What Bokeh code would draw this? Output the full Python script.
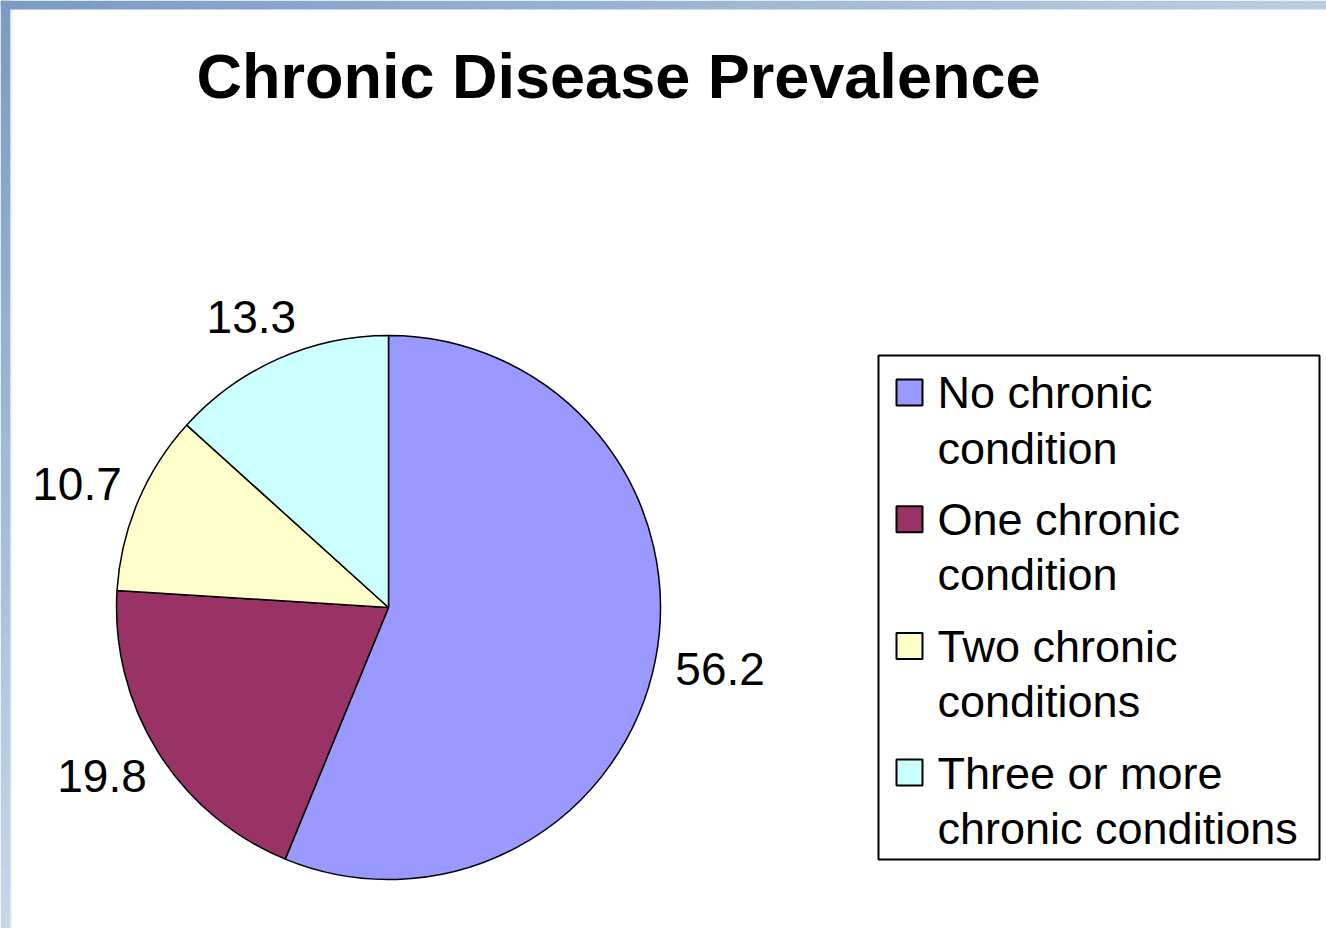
import numpy as np
from bokeh.plotting import figure
from bokeh.models import Range1d
from bokeh.core.properties import value
from bokeh.embed import file_html
from bokeh.resources import INLINE

# ---- data ----
title = "Chronic Disease Prevalence"
categories = ["No chronic\ncondition", "One chronic\ncondition",
              "Two chronic\nconditions", "Three or more\nchronic conditions"]
values = [56.2, 19.8, 10.7, 13.3]
labels = ["56.2", "19.8", "10.7", "13.3"]
colors = ["#9999FF", "#993366", "#FFFFCC", "#CCFFFF"]

W, H = 1326, 928
FONT = "Liberation Sans"

p = figure(width=W, height=H, x_range=Range1d(0, W), y_range=Range1d(0, H),
           output_backend="svg", toolbar_location=None, min_border=0,
           x_axis_type=None, y_axis_type=None)
p.grid.visible = False
p.outline_line_color = None
p.background_fill_color = "white"
p.border_fill_color = "white"

# ---- window frame (gradient strips) ----
def lerp(c1, c2, t):
    return "#%02x%02x%02x" % tuple(int(round(a + (b - a) * t)) for a, b in zip(c1, c2))

n = 60
c_start, c_top_end, c_left_end = (122, 156, 196), (190, 206, 225), (202, 216, 232)
xs = np.linspace(0, W, n + 1)
p.quad(left=xs[:-1], right=xs[1:] + 1, top=H, bottom=H - 9,
       color=[lerp(c_start, c_top_end, i / n) for i in range(n)], line_color=None)
ys = np.linspace(0, H, n + 1)
p.quad(left=0, right=10, top=H - ys[:-1], bottom=H - ys[1:] - 1,
       color=[lerp(c_start, c_left_end, i / n) for i in range(n)], line_color=None)
p.quad(left=10, right=11, top=H - 9, bottom=0, color="#dde6f0", line_color=None)

# ---- pie ----
cx, cy, r = 388, H - 607, 272
vals = np.array(values, dtype=float)
frac = vals / vals.sum()
cum = np.concatenate([[0], np.cumsum(frac)])
start = np.pi / 2 - 2 * np.pi * cum[:-1]
end = np.pi / 2 - 2 * np.pi * cum[1:]
p.wedge(x=cx, y=cy, radius=r, start_angle=start, end_angle=end, direction="clock",
        fill_color=colors, line_color="black", line_width=1.5)

mid = (start + end) / 2
lx = cx + np.cos(mid) * 300 + np.cos(mid) * 38
ly = cy + np.sin(mid) * 300 + np.sin(mid) * 18
p.text(x=lx, y=ly, text=labels, text_align="center", text_baseline="middle",
       text_font=value(FONT), text_font_size="46px", text_color="black")

# ---- title ----
p.text(x=[618], y=[H - 75], text=[title], text_align="center", text_baseline="middle",
       text_font=value(FONT), text_font_size="63px", text_font_style="bold",
       text_color="black")

# ---- legend ----
p.quad(left=[878], right=[1319], top=[H - 355], bottom=[H - 859],
       fill_color="white", line_color="black", line_width=2)
first_line = 392 + np.arange(len(categories)) * 126.7
p.rect(x=909, y=H - first_line, width=26, height=26,
       fill_color=colors, line_color="black", line_width=2)
p.text(x=937, y=H - (first_line + 28), text=categories, text_align="left",
       text_baseline="middle", text_font=value(FONT), text_font_size="45px",
       text_line_height=1.08, text_color="black")

open("out.html", "w").write(file_html(p, INLINE))
